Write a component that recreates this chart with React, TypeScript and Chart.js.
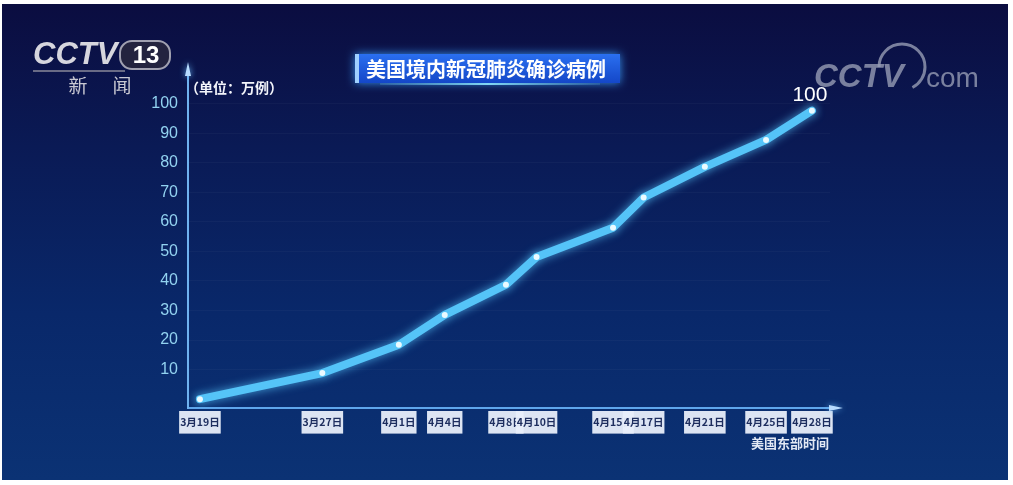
import React, { useEffect, useRef } from "react";
import { Chart, registerables } from "chart.js";

Chart.register(...registerables);

// Days counted from 3月19日
const days = [0, 8, 13, 16, 20, 22, 27, 29, 33, 37, 40];
const dateLabels = ["3月19日", "3月27日", "4月1日", "4月4日", "4月8日", "4月10日", "4月15日", "4月17日", "4月21日", "4月25日", "4月28日"];
const cases = [0, 8.8, 18.4, 28.5, 38.7, 48.1, 58, 68.2, 78.6, 87.7, 97.6];
const yTicks = [10, 20, 30, 40, 50, 60, 70, 80, 90, 100];
const endLabel = "100";
const titleText = "美国境内新冠肺炎确诊病例";
const unitText = "（单位：万例）";
const xAxisNote = "美国东部时间";

const CJK = '"Noto Sans CJK SC", sans-serif';

const decorPlugin = {
  id: "decor",
  beforeDraw(chart: any) {
    const { ctx, width, height } = chart;
    ctx.save();
    ctx.fillStyle = "#ffffff";
    ctx.fillRect(0, 0, width, height);
    const g = ctx.createLinearGradient(0, 4, 0, 480);
    g.addColorStop(0, "#0b0d40");
    g.addColorStop(0.3, "#0a1a55");
    g.addColorStop(0.65, "#09286a");
    g.addColorStop(1, "#0b3274");
    ctx.fillStyle = g;
    ctx.fillRect(2, 4, 1006, 476);
    ctx.restore();
  },
  beforeDatasetsDraw(chart: any) {
    const ctx = chart.ctx;
    ctx.save();
    ctx.shadowColor = "rgba(90,200,255,0.75)";
    ctx.shadowBlur = 10;
  },
  afterDatasetsDraw(chart: any) {
    chart.ctx.restore();
  },
  afterDraw(chart: any) {
    const { ctx, chartArea } = chart;
    const { left, right, bottom, top } = chartArea;
    ctx.save();
    // axis extensions + arrows
    ctx.strokeStyle = "#6fb2f0";
    ctx.fillStyle = "#b8dcff";
    ctx.lineWidth = 2;
    ctx.shadowColor = "rgba(110,190,255,0.9)";
    ctx.shadowBlur = 6;
    ctx.beginPath();
    ctx.moveTo(left, top);
    ctx.lineTo(left, 72);
    ctx.stroke();
    ctx.beginPath();
    ctx.moveTo(left, 62);
    ctx.lineTo(left - 3, 76);
    ctx.lineTo(left + 3, 76);
    ctx.closePath();
    ctx.fill();
    ctx.beginPath();
    ctx.moveTo(right, bottom);
    ctx.lineTo(843, bottom);
    ctx.lineTo(829, bottom - 3);
    ctx.lineTo(829, bottom + 3);
    ctx.lineTo(843, bottom);
    ctx.fill();
    ctx.shadowBlur = 0;

    // end label
    const meta = chart.getDatasetMeta(0);
    const last = meta.data[meta.data.length - 1];
    ctx.fillStyle = "#ffffff";
    ctx.font = '21px "Liberation Sans", Arial, sans-serif';
    ctx.textAlign = "center";
    ctx.textBaseline = "middle";
    ctx.fillText(endLabel, last.x - 2, last.y - 15);

    // unit text
    ctx.font = `bold 14px ${CJK}`;
    ctx.textAlign = "left";
    ctx.fillStyle = "#f2f4fa";
    ctx.fillText(unitText, 185, 88);

    // x axis note
    ctx.font = `bold 13px ${CJK}`;
    ctx.textAlign = "center";
    ctx.fillStyle = "#e2e8f4";
    ctx.fillText(xAxisNote, 790, 443);

    // title box
    const tg = ctx.createLinearGradient(0, 54, 0, 83);
    tg.addColorStop(0, "#2a6ff0");
    tg.addColorStop(1, "#1447c8");
    ctx.shadowColor = "rgba(60,160,255,0.9)";
    ctx.shadowBlur = 10;
    ctx.fillStyle = tg;
    ctx.fillRect(355, 54, 265, 29);
    ctx.shadowBlur = 0;
    ctx.fillStyle = "#9fd0ff";
    ctx.fillRect(355, 54, 4, 29);
    const gl = ctx.createLinearGradient(355, 0, 620, 0);
    gl.addColorStop(0, "rgba(120,220,255,0)");
    gl.addColorStop(0.5, "rgba(140,230,255,0.9)");
    gl.addColorStop(1, "rgba(120,220,255,0)");
    ctx.fillStyle = gl;
    ctx.fillRect(380, 83, 220, 2);
    ctx.fillStyle = "#ffffff";
    ctx.font = `bold 20px ${CJK}`;
    ctx.textAlign = "left";
    ctx.fillText(titleText, 366, 69);

    // CCTV 13 logo
    ctx.font = 'italic bold 31px "Liberation Sans", Arial, sans-serif';
    ctx.textAlign = "left";
    ctx.fillStyle = "#d6d6de";
    ctx.fillText("CCTV", 33, 55);
    ctx.beginPath();
    ctx.roundRect(120, 41, 50, 28, 12);
    ctx.fillStyle = "#23233f";
    ctx.fill();
    ctx.strokeStyle = "#a0a0b0";
    ctx.lineWidth = 2;
    ctx.stroke();
    ctx.fillStyle = "#ffffff";
    ctx.font = 'bold 24px "Liberation Sans", Arial, sans-serif';
    ctx.textAlign = "center";
    ctx.fillText("13", 146, 56);
    ctx.strokeStyle = "#8a8a9a";
    ctx.lineWidth = 1.5;
    ctx.beginPath();
    ctx.moveTo(33, 71);
    ctx.lineTo(125, 71);
    ctx.stroke();
    ctx.fillStyle = "#c8c8d2";
    ctx.font = `19px ${CJK}`;
    ctx.fillText("新", 78, 86);
    ctx.fillText("闻", 122, 86);

    // CCTV.com watermark
    ctx.fillStyle = "rgba(150,156,180,0.8)";
    ctx.strokeStyle = "rgba(150,156,180,0.8)";
    ctx.font = 'italic bold 33px "Liberation Sans", Arial, sans-serif';
    ctx.textAlign = "left";
    ctx.textBaseline = "alphabetic";
    ctx.fillText("CCTV", 814, 87);
    ctx.lineWidth = 3;
    ctx.beginPath();
    ctx.arc(902, 67, 23, Math.PI * 1.0, Math.PI * 2.35);
    ctx.stroke();
    ctx.font = '28px "Liberation Sans", Arial, sans-serif';
    ctx.fillText("com", 926, 87);
    ctx.restore();
  },
};

export default function App() {
  const ref = useRef<HTMLCanvasElement | null>(null);
  useEffect(() => {
    if (!ref.current) return;
    const chart = new Chart(ref.current, {
      type: "line",
      data: {
        datasets: [
          {
            data: days.map((d, i) => ({ x: d, y: cases[i] })),
            borderColor: "#55c4f8",
            borderWidth: 8,
            borderJoinStyle: "round",
            borderCapStyle: "round",
            tension: 0,
            pointRadius: 3,
            pointBackgroundColor: "#eafaff",
            pointBorderWidth: 0,
          },
        ],
      },
      options: {
        animation: false,
        responsive: false,
        layout: { padding: { top: 74, right: 183, left: 0, bottom: 0 } },
        plugins: { legend: { display: false }, tooltip: { enabled: false }, title: { display: false } },
        scales: {
          x: {
            type: "linear",
            min: -0.78,
            max: 41.18,
            afterBuildTicks: (s: any) => {
              s.ticks = days.map((v) => ({ value: v }));
            },
            afterFit: (s: any) => {
              s.height = 77;
            },
            ticks: {
              autoSkip: false,
              maxRotation: 0,
              callback: (v: any) => {
                const i = days.indexOf(Number(v));
                return i >= 0 ? dateLabels[i] : "";
              },
              color: "#1d2d5e",
              font: { size: 10.5, family: CJK, weight: "bold" },
              showLabelBackdrop: true,
              backdropColor: "rgba(232,238,250,0.95)",
              backdropPadding: { top: 5, bottom: 5, left: 1, right: 1 },
              padding: 8,
            },
            grid: { display: false, drawTicks: false },
            border: { display: true, color: "#5fa6ec", width: 2 },
          },
          y: {
            min: -3,
            max: 110,
            afterBuildTicks: (s: any) => {
              s.ticks = yTicks.map((v) => ({ value: v }));
            },
            afterFit: (s: any) => {
              s.width = 188;
            },
            ticks: {
              color: "#92d2f0",
              font: { size: 16, family: '"Liberation Sans", Arial, sans-serif' },
              padding: 10,
            },
            grid: { color: "rgba(255,255,255,0.03)", drawTicks: false },
            border: { display: true, color: "#6fb2f0", width: 2 },
          },
        },
      },
      plugins: [decorPlugin],
    } as any);
    return () => chart.destroy();
  }, []);
  return (
    <div style={{ position: "fixed", left: 0, top: 0, width: 1013, height: 485, background: "#fff" }}>
      <canvas ref={ref} width={1013} height={485} style={{ display: "block" }} />
    </div>
  );
}
